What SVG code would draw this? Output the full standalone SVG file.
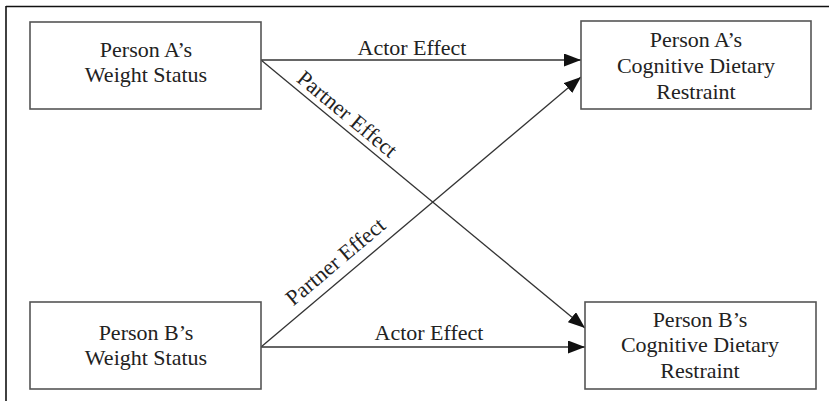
<svg xmlns="http://www.w3.org/2000/svg" width="829" height="401" viewBox="0 0 829 401">
<style>
.box{fill:#fff;stroke:#555;stroke-width:1.6}
.t{font-family:"Liberation Serif","Times New Roman",serif;font-size:22px;fill:#222;text-anchor:middle}
.e{font-family:"Liberation Serif","Times New Roman",serif;font-size:22px;fill:#222;text-anchor:middle}
.c{stroke:#333;stroke-width:1.3;fill:none;marker-end:url(#ah)}
</style>
<defs>
<marker id="ah" markerUnits="userSpaceOnUse" markerWidth="18" markerHeight="13" refX="17" refY="6.5" orient="auto">
<path d="M0,0 L17,6.5 L0,13 z" fill="#111"/>
</marker>
</defs>
<rect width="829" height="401" fill="#fff"/>
<g id="frame" stroke="#111" stroke-width="1.6">
<line x1="6" y1="6.5" x2="829" y2="6.5"/>
<line x1="6" y1="6" x2="6" y2="401"/>
</g>
<g id="connectors">
<line class="c" x1="261" y1="60" x2="581" y2="60"/>
<line class="c" x1="261" y1="60" x2="585" y2="328"/>
<line class="c" x1="261" y1="347" x2="581" y2="77"/>
<line class="c" x1="261" y1="347" x2="585" y2="347"/>
<text class="e" x="412" y="55">Actor Effect</text>
<text class="e" x="429" y="340">Actor Effect</text>
<text class="e" transform="translate(261,60) rotate(39.6)" x="101" y="-6">Partner Effect</text>
<text class="e" transform="translate(261,347) rotate(-40.2)" x="112" y="-10">Partner Effect</text>
</g>
<g id="nodeA1">
<rect class="box" x="30" y="22" width="231" height="87"/>
<text class="t" x="146" y="57">Person A’s</text>
<text class="t" x="146" y="82">Weight Status</text>
</g>
<g id="nodeA2">
<rect class="box" x="581" y="21" width="230" height="88"/>
<text class="t" x="696" y="47">Person A’s</text>
<text class="t" x="696" y="73">Cognitive Dietary</text>
<text class="t" x="696" y="99">Restraint</text>
</g>
<g id="nodeB1">
<rect class="box" x="30" y="302" width="231" height="87"/>
<text class="t" x="146" y="340">Person B’s</text>
<text class="t" x="146" y="365">Weight Status</text>
</g>
<g id="nodeB2">
<rect class="box" x="585" y="302" width="231" height="87"/>
<text class="t" x="700" y="327">Person B’s</text>
<text class="t" x="700" y="352">Cognitive Dietary</text>
<text class="t" x="700" y="378">Restraint</text>
</g>
</svg>
